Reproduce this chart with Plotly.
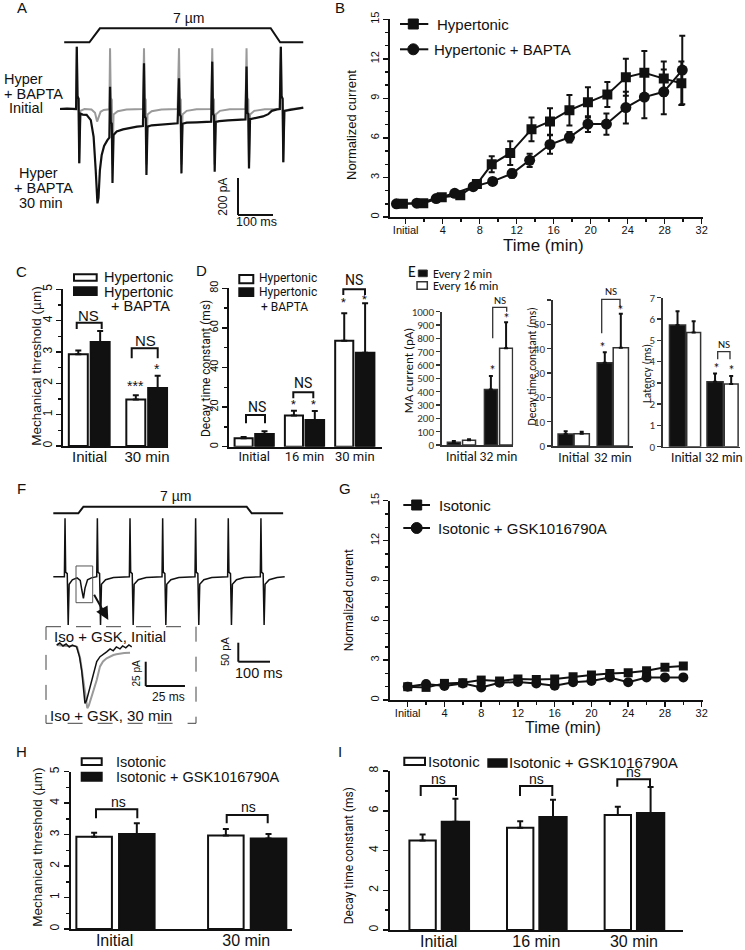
import plotly.graph_objects as go

W, H = 745, 950
ARIAL = "Liberation Sans, Arial, Helvetica, sans-serif"
NARROW = "Roboto, Liberation Sans, sans-serif"
CALIBRI = "Carlito, Lato, Open Sans, sans-serif"
INK = "#111111"
GRAY = "#9a9a9a"

# ===================== DATA =====================
# Panel A: example recordings (time in ms, current in pA; stimulus in um)
A_stim_t = [12, 84, 114, 602, 629, 695]
A_stim_um = [0, 0, 7, 7, 0, 0]
A_init_t = [0, 46, 48, 50, 53, 55, 58, 70, 90, 100, 106, 110, 116, 125, 141,
            143, 145, 148, 150, 153, 165, 190, 237,
            240, 242, 245, 247, 250, 262, 290, 336,
            340, 342, 345, 347, 350, 362, 390, 432,
            435, 437, 440, 442, 445, 457, 485, 530,
            533, 535, 538, 540, 543, 555, 585, 628,
            631, 633, 636, 638, 641, 660, 695]
A_init_pA = [2, 2, 337, 70, 55, -293, -10, 0, -3, -20, -68, -50, -15, -5, -2,
             328, 60, 50, -300, -30, -12, -3, 0,
             328, 60, 50, -300, -30, -12, -3, 0,
             328, 60, 50, -300, -30, -10, -2, 0,
             328, 60, 50, -300, -30, -10, -2, 0,
             328, 60, 50, -300, -30, -10, -2, 0,
             337, 70, 55, -288, -10, 0, 5]
A_30_t = [0, 20, 46, 48, 50, 53, 55, 58, 65, 76, 88, 96, 102, 107, 110, 114, 119, 126, 135, 141,
          143, 145, 148, 150, 153, 162, 180, 200, 220, 237,
          240, 242, 245, 247, 250, 262, 285, 310, 336,
          340, 342, 345, 347, 350, 362, 390, 415, 432,
          435, 437, 440, 442, 445, 455, 480, 505, 530,
          533, 535, 538, 540, 543, 555, 580, 595, 605, 620, 628,
          631, 633, 636, 638, 641, 655, 675, 695]
A_30_pA = [0, 2, 0, 337, 70, 55, -293, -25, -30, -32, -60, -150, -330, -510, -480, -330, -250, -200, -170, -155,
           120, -70, -80, -400, -140, -122, -110, -102, -95, -92,
           247, -40, -50, -357, -95, -88, -84, -80, -77,
           166, -30, -40, -348, -80, -74, -72, -70, -68,
           256, -25, -35, -339, -70, -66, -62, -58, -56,
           229, -20, -28, -321, -55, -50, -40, -28, -10, -2, 0,
           337, 70, 55, -288, -10, -5, 2, 7]

# Panel B: normalized current vs time
B_t_hyper = [-0.3, 1.9, 3.9, 5.9, 7.7, 9.3, 11.3, 13.6, 15.6, 17.7, 19.7, 21.8, 23.8, 25.8, 27.9, 29.8]
B_hyper = [1.0, 1.05, 1.5, 1.65, 2.5, 4.0, 4.85, 6.65, 7.25, 8.1, 8.7, 9.3, 10.6, 10.95, 10.5, 10.15]
B_hyper_err = [0.05, 0.05, 0.1, 0.15, 0.3, 0.6, 0.9, 0.9, 1.0, 1.15, 1.15, 0.95, 1.4, 1.65, 1.3, 1.65]
B_t_bapta = [-1.0, 1.2, 3.3, 5.3, 7.3, 9.4, 11.5, 13.4, 15.6, 17.7, 19.7, 21.7, 23.8, 25.8, 27.9, 29.9]
B_bapta = [1.0, 1.05, 1.4, 1.8, 2.3, 2.7, 3.3, 4.3, 5.5, 6.05, 7.05, 7.05, 8.3, 9.1, 9.5, 11.15]
B_bapta_err = [0.05, 0.05, 0.1, 0.15, 0.2, 0.2, 0.3, 0.5, 0.7, 0.4, 0.6, 0.8, 1.2, 1.6, 1.7, 2.6]

# Panel C: mechanical threshold
C_groups = ["Initial", "30 min"]
C_hyper = [2.93, 1.48]
C_hyper_err = [0.12, 0.14]
C_bapta = [3.32, 1.85]
C_bapta_err = [0.35, 0.39]

# Panel D: decay time constant
D_groups = ["Initial", "16 min", "30 min"]
D_hyper = [4.3, 15.7, 53.5]
D_hyper_err = [0.6, 2.5, 13.9]
D_bapta = [6.4, 13.5, 47.5]
D_bapta_err = [1.4, 4.5, 24.9]

# Panel E
E_groups = ["Initial", "32 min"]
E1_every2 = [20, 417]
E1_every2_err = [10, 100]
E1_every16 = [35, 725]
E1_every16_err = [9, 195]
E2_every2 = [4.9, 34.2]
E2_every2_err = [1.2, 4.3]
E2_every16 = [5.0, 40.4]
E2_every16_err = [0.9, 14.0]
E3_every2 = [5.72, 3.05]
E3_every2_err = [0.64, 0.39]
E3_every16 = [5.36, 2.94]
E3_every16_err = [0.53, 0.38]

# Panel F: example recording (ms, pA) and inset
F_stim_t = [0, 79, 95, 610, 626, 725]
F_stim_um = [0, 0, 7, 7, 0, 0]
F_t = [0, 20, 35, 37, 39, 44, 47, 50, 60, 75, 85, 90, 95, 100, 108, 120, 137,
       139, 141, 146, 149, 152, 165, 190, 240,
       242, 244, 249, 252, 255, 268, 293, 343,
       345, 347, 352, 355, 358, 371, 396, 447,
       449, 451, 456, 459, 462, 475, 500, 550,
       552, 554, 559, 562, 565, 578, 603, 653,
       655, 657, 662, 665, 668, 681, 706, 730]
F_pA = [0, 1, 0, 154, 12, 8, -127, -20, -8, -3, -10, -35, -57, -30, -8, -3, 0,
        154, 12, 8, -127, -20, -8, -2, 0,
        154, 12, 8, -127, -20, -8, -2, 0,
        154, 12, 8, -127, -20, -8, -2, 0,
        154, 12, 8, -127, -20, -8, -2, 0,
        154, 12, 8, -127, -20, -8, -2, 0,
        154, 12, 8, -127, -20, -8, -2, 0]
Fi_black_t = [0, 2, 4, 6, 8, 10, 12.7, 14.5, 15.9, 17, 18, 19, 20.2, 21.8, 23.4, 25.5, 27.6, 29.5,
              31.8, 34, 36, 38, 40.3, 42, 44, 46, 47.8]
Fi_black_pA = [0, 2, -1, 1, -2, 0, -2, -12, -26, -45, -60, -57, -50, -40, -29, -17, -12, -10,
               -7, -4, -6, -2, -4, -1, -3, 0, -2]
Fi_gray_t = [0, 6, 12, 13, 15, 17, 18.5, 19.5, 20.5, 22.3, 24, 25.5, 27.6, 29.5, 31.8, 34, 36.1,
             38, 40.3, 43, 46.7]
Fi_gray_pA = [0, -1, -1, -2, -14, -35, -55, -65, -62, -53, -44, -36, -22, -17, -13.7, -11.5, -10.3,
              -9.5, -8.6, -8.2, -7.9]

# Panel G
G_t = [0, 2, 4, 6, 8, 10, 12, 14, 16, 18, 20, 22, 24, 26, 28, 30]
G_iso = [1.0, 0.95, 1.25, 1.3, 1.5, 1.43, 1.58, 1.55, 1.58, 1.75, 1.88, 2.0, 2.05, 2.2, 2.46, 2.56]
G_gsk = [1.0, 1.2, 1.05, 1.25, 0.95, 1.3, 1.35, 1.25, 1.08, 1.33, 1.43, 1.7, 1.33, 1.7, 1.7, 1.7]

# Panel H
H_groups = ["Initial", "30 min"]
H_iso = [2.93, 2.97]
H_iso_err = [0.13, 0.21]
H_gsk = [3.02, 2.88]
H_gsk_err = [0.34, 0.14]

# Panel I
I_groups = ["Initial", "16 min", "30 min"]
I_iso = [4.5, 5.15, 5.79]
I_iso_err = [0.3, 0.32, 0.41]
I_gsk = [5.45, 5.69, 5.89]
I_gsk_err = [1.15, 0.86, 1.31]

# ===================== HELPERS =====================
def PX(x):
    return x / W


def PY(y):
    return 1 - y / H


layout = dict(width=W, height=H, autosize=False,
              margin=dict(l=0, r=0, t=0, b=0, pad=0, autoexpand=False),
              paper_bgcolor="white", plot_bgcolor="rgba(0,0,0,0)",
              showlegend=False, barmode="overlay", font=dict(family=ARIAL, color=INK))
shapes = []
annotations = []
fig = go.Figure()


def refs(n):
    return ("x" if n == 1 else f"x{n}"), ("y" if n == 1 else f"y{n}")


def place(n, box, xkw, ykw):
    l, t, r, b = box
    xr, yr = refs(n)
    xk = "xaxis" if n == 1 else f"xaxis{n}"
    yk = "yaxis" if n == 1 else f"yaxis{n}"
    xkw = dict(xkw)
    ykw = dict(ykw)
    xkw.update(domain=[l / W, r / W], anchor=yr, automargin=False)
    ykw.update(domain=[1 - b / H, 1 - t / H], anchor=xr, automargin=False)
    layout[xk] = xkw
    layout[yk] = ykw


def hidden(rng):
    return dict(visible=False, range=rng, fixedrange=True, showgrid=False, zeroline=False)


def common(color=INK, lw=2):
    return dict(showgrid=False, zeroline=False, showline=True, linecolor=color, linewidth=lw,
                tickcolor=color, tickwidth=1.5, ticklen=5, ticks="outside", fixedrange=True)


def catx(color=INK, lw=2, size=15, family=ARIAL, standoff=-3):
    d = common(color, lw)
    d.update(ticks="", ticklen=0, tickangle=0, ticklabelstandoff=standoff,
             tickfont=dict(size=size, family=family, color=INK))
    return d


def T(text, x, y, size=14, family=ARIAL, xa="center", ya="middle", angle=0, color=INK):
    annotations.append(dict(text=text, x=PX(x), y=PY(y), xref="paper", yref="paper", showarrow=False,
                            font=dict(size=size, family=family, color=color), xanchor=xa, yanchor=ya,
                            textangle=angle, borderpad=0))


def line(x0, y0, x1, y1, w=2, color=INK, dash=None):
    d = dict(type="line", xref="paper", yref="paper", x0=PX(x0), y0=PY(y0), x1=PX(x1), y1=PY(y1),
             line=dict(color=color, width=w))
    if dash:
        d["line"]["dash"] = dash
    shapes.append(d)


def rect(x0, y0, x1, y1, fill, w=2, color=INK, dash=None):
    d = dict(type="rect", xref="paper", yref="paper", x0=PX(x0), y0=PY(y0), x1=PX(x1), y1=PY(y1),
             fillcolor=fill, line=dict(color=color, width=w))
    if dash:
        d["line"]["dash"] = dash
    shapes.append(d)


def circle(cx, cy, d):
    shapes.append(dict(type="circle", xref="paper", yref="paper", x0=PX(cx - d / 2), x1=PX(cx + d / 2),
                       y0=PY(cy - d / 2), y1=PY(cy + d / 2), fillcolor=INK, line=dict(color=INK, width=1)))


def bracket(x0, x1, ytop, yl0, yl1, w=2, color=INK):
    path = (f"M {PX(x0)} {PY(yl0)} L {PX(x0)} {PY(ytop)} L {PX(x1)} {PY(ytop)} L {PX(x1)} {PY(yl1)}")
    shapes.append(dict(type="path", xref="paper", yref="paper", path=path, line=dict(color=color, width=w)))


def scalebar(n, t0, i0, dt, di, w=2):
    xr, yr = refs(n)
    shapes.append(dict(type="line", xref=xr, yref=yr, x0=t0, x1=t0, y0=i0, y1=i0 + di, line=dict(color=INK, width=w)))
    shapes.append(dict(type="line", xref=xr, yref=yr, x0=t0, x1=t0 + dt, y0=i0, y1=i0, line=dict(color=INK, width=w)))


def err(arr, color=INK, w=3, th=2):
    return dict(type="data", array=arr, arrayminus=[0] * len(arr), symmetric=False,
                color=color, thickness=th, width=w)


def bars(n, cats, vals, errs, fill, offset, width, lc=INK, lw=2, ecol=INK, ew=3):
    xr, yr = refs(n)
    fig.add_trace(go.Bar(x=cats, y=vals, xaxis=xr, yaxis=yr, offset=offset, width=width,
                         marker=dict(color=fill, line=dict(color=lc, width=lw)),
                         error_y=err(errs, ecol, ew), hoverinfo="skip"))


# ===================== PANEL A =====================
place(1, (55, 44, 310, 222), hidden([(55 - 60) / 0.35, (310 - 60) / 0.35]),
      hidden([(109 - 222) / 0.185, (109 - 44) / 0.185]))
place(2, (55, 18, 310, 46), hidden([(55 - 60) / 0.35, (310 - 60) / 0.35]),
      hidden([(42.3 - 46) / 2.0, (42.3 - 18) / 2.0]))
fig.add_trace(go.Scatter(x=A_stim_t, y=A_stim_um, xaxis="x2", yaxis="y2", mode="lines",
                         line=dict(color=INK, width=2), hoverinfo="skip"))
fig.add_trace(go.Scatter(x=A_init_t, y=A_init_pA, xaxis="x", yaxis="y", mode="lines",
                         line=dict(color=GRAY, width=2), hoverinfo="skip"))
fig.add_trace(go.Scatter(x=A_30_t, y=A_30_pA, xaxis="x", yaxis="y", mode="lines",
                         line=dict(color=INK, width=2.2), hoverinfo="skip"))
scalebar(1, 508.6, -573, 100, 200)
T("A", 21.7, 7, 15)
T("7 µm", 188, 18.3, 14)
T("Hyper", 3, 79, 14.5, xa="left")
T("+ BAPTA", 3, 93.5, 14.5, xa="left")
T("Initial", 7.5, 108, 14.5, xa="left")
T("Hyper", 18.3, 173.3, 14.5, xa="left")
T("+ BAPTA", 13.3, 188.3, 14.5, xa="left")
T("30 min", 18.3, 203.3, 14.5, xa="left")
T("200 pA", 223, 196.7, 12, angle=-90)
T("100 ms", 256.7, 222, 12.5)

# ===================== PANEL B =====================
bx0 = 405.7
bs = 9.25
place(3, (390, 19.3, 703.3, 217),
      dict(common(), range=[(390 - bx0) / bs, (703.3 - bx0) / bs], tickmode="linear", tick0=0, dtick=4,
           labelalias={"0": "Initial"}, tickfont=dict(size=11, family=ARIAL), tickangle=0,
           ticklabelstandoff=-3,
           minor=dict(dtick=2, ticks="outside", ticklen=3, tickcolor=INK, tickwidth=1.5)),
      dict(common(), range=[0, 15], tickmode="linear", tick0=0, dtick=3, tickangle=-90,
           tickfont=dict(size=11, family=ARIAL),
           minor=dict(dtick=1, ticks="outside", ticklen=3, tickcolor=INK, tickwidth=1.5)))
fig.add_trace(go.Scatter(x=B_t_hyper, y=B_hyper, xaxis="x3", yaxis="y3", mode="lines+markers",
                         line=dict(color=INK, width=2), marker=dict(symbol="square", size=10, color=INK),
                         error_y=dict(type="data", array=B_hyper_err, color=INK, thickness=2, width=3),
                         hoverinfo="skip"))
fig.add_trace(go.Scatter(x=B_t_bapta, y=B_bapta, xaxis="x3", yaxis="y3", mode="lines+markers",
                         line=dict(color=INK, width=2), marker=dict(symbol="circle", size=11, color=INK),
                         error_y=dict(type="data", array=B_bapta_err, color=INK, thickness=2, width=3),
                         hoverinfo="skip"))
T("B", 340, 7, 15)
T("Normalized current", 352, 125, 13, angle=-90)
T("Time (min)", 543.3, 245, 17)
line(400, 24, 428.3, 24)
rect(408.3, 19, 418.3, 29, INK, w=1)
T("Hypertonic", 435.7, 24, 15, xa="left")
line(400, 49.3, 428.3, 49.3)
circle(413.3, 49.3, 11)
T("Hypertonic + BAPTA", 433.3, 49.3, 15, xa="left")

# ===================== PANEL C =====================
place(4, (63.3, 289.3, 168.3, 446),
      dict(catx(size=15, standoff=-4), range=[-0.456, 1.37]),
      dict(common(), range=[0, 5], tickmode="linear", dtick=1, tickangle=-90,
           tickfont=dict(size=12, family=ARIAL),
           minor=dict(dtick=0.5, ticks="outside", ticklen=3, tickcolor=INK, tickwidth=1.5)))
bars(4, C_groups, C_hyper, C_hyper_err, "white", -0.36, 0.33)
bars(4, C_groups, C_bapta, C_bapta_err, INK, 0.02, 0.33)
T("C", 21.7, 271.7, 15)
T("Mechanical threshold (µm)", 37, 366.7, 13.5, angle=-90)
rect(74, 274.3, 96.7, 280.7, "white")
rect(74, 287.3, 96.7, 295, INK)
T("Hypertonic", 103.3, 276.7, 14.5, xa="left")
T("Hypertonic", 103.3, 291.7, 14.5, xa="left")
T("+ BAPTA", 110, 306, 14.5, xa="left")
bracket(76.7, 101.7, 322.7, 329, 329)
T("NS", 88.8, 315.5, 15)
bracket(131.7, 157.7, 348.3, 358.3, 358.3)
T("NS", 145, 340, 15)
T("***", 135, 386, 14)
T("*", 156.7, 368.5, 14)

# ===================== PANEL D =====================
place(5, (229.3, 288.3, 381.7, 446.7),
      dict(catx(size=13, family=NARROW, standoff=-3), range=[-0.495, 2.535]),
      dict(common(), range=[0, 80], tickmode="linear", dtick=20, tickangle=-90,
           tickfont=dict(size=11, family=NARROW),
           minor=dict(dtick=10, ticks="outside", ticklen=3, tickcolor=INK, tickwidth=1.5)))
bars(5, D_groups, D_hyper, D_hyper_err, "white", -0.39, 0.36)
bars(5, D_groups, D_bapta, D_bapta_err, INK, 0.02, 0.37)
T("D", 201.7, 270, 15)
T("Decay time constant (ms)", 206, 369, 12, NARROW, angle=-90)
rect(239.3, 275, 253.3, 283.3, "white")
rect(239.3, 288.3, 253.3, 296, INK)
T("Hypertonic", 258.3, 277.5, 12, NARROW, xa="left")
T("Hypertonic", 258.3, 292, 12, NARROW, xa="left")
T("+ BAPTA", 260, 307, 12, NARROW, xa="left")
bracket(246, 265, 415, 423.3, 423.3)
T("NS", 256.7, 406.7, 14, NARROW)
bracket(293.3, 313.3, 392.3, 398.3, 398.3)
T("NS", 303.3, 383.3, 14, NARROW)
bracket(343.3, 365, 289.3, 295, 295)
T("NS", 354.2, 280, 14, NARROW)
for sx, sy in [(293.3, 404.5), (313.3, 404.5), (343.3, 302.5), (364, 299)]:
    T("*", sx, sy, 11, NARROW)

# ===================== PANEL E =====================
EC = "#333333"
e_y = dict(common(EC, 1.5), ticklen=4, tickfont=dict(size=11, family=CALIBRI, color=EC))
e_x = catx(EC, 1.5, 13.5, CALIBRI, standoff=-2)
place(6, (441.7, 311.7, 513.3, 445), dict(e_x, range=[-0.533, 1.40]),
      dict(e_y, range=[0, 1000], tickmode="linear", dtick=100))
place(7, (552.7, 300, 633.3, 446), dict(e_x, range=[-0.537, 1.524]),
      dict(e_y, range=[0, 60], tickmode="array", tickvals=[0, 10, 20, 30, 40, 50, 60],
           ticktext=["0", "10", "20", "30", "40", "50", ""]))
place(8, (662.7, 297.7, 740, 446.7), dict(e_x, range=[-0.63, 1.43]),
      dict(e_y, range=[0, 7], tickmode="linear", dtick=1))
bars(6, E_groups, E1_every2, E1_every2_err, INK, -0.38, 0.35, lc=EC, lw=1.5, ew=2)
bars(6, E_groups, E1_every16, E1_every16_err, "white", 0.03, 0.35, lc=EC, lw=1.5, ew=2)
bars(7, E_groups, E2_every2, E2_every2_err, INK, -0.40, 0.39, lc=EC, lw=1.5, ew=2)
bars(7, E_groups, E2_every16, E2_every16_err, "white", 0.01, 0.39, lc=EC, lw=1.5, ew=2)
bars(8, E_groups, E3_every2, E3_every2_err, INK, -0.45, 0.43, lc=EC, lw=1.5, ew=2)
bars(8, E_groups, E3_every16, E3_every16_err, "white", 0.01, 0.37, lc=EC, lw=1.5, ew=2)
T("E", 411.7, 271.7, 16, CALIBRI)
rect(418.3, 270, 427.3, 276.7, INK, w=1, color=EC)
rect(417, 281.7, 427.3, 289.3, "white", w=1.5, color=EC)
T("Every 2 min", 431.7, 273.3, 12.5, CALIBRI, xa="left")
T("Every 16 min", 431.7, 285.3, 12.5, CALIBRI, xa="left")
T("MA current (pA)", 408.3, 370, 13, CALIBRI, angle=-90)
T("Decay time constant (ms)", 531.7, 366.7, 11.5, CALIBRI, angle=-90)
T("Latency (ms)", 647.7, 373.3, 11.5, CALIBRI, angle=-90)
bracket(492.7, 506.7, 307.3, 338.3, 311.7, w=1.3, color=EC)
T("NS", 500, 300.7, 11, CALIBRI)
T("*", 492.7, 371, 14, CALIBRI)
T("*", 506.7, 318, 14, CALIBRI)
bracket(601.7, 620, 299.3, 333.3, 307.3, w=1.3, color=EC)
T("NS", 610.8, 291, 11, CALIBRI)
T("*", 602, 347.5, 14, CALIBRI)
T("*", 620, 310, 14, CALIBRI)
bracket(717.7, 730, 351.7, 359.3, 359.3, w=1.3, color=EC)
T("NS", 724, 344, 11, CALIBRI)
T("*", 716.7, 368, 14, CALIBRI)
T("*", 731.7, 370.5, 14, CALIBRI)

# ===================== PANEL F =====================
place(9, (45, 512, 290, 668), hidden([(45 - 53.3) / 0.317, (290 - 53.3) / 0.317]),
      hidden([(576.7 - 668) / 0.38, (576.7 - 512) / 0.38]))
place(10, (45, 500, 290, 518), hidden([(45 - 53.3) / 0.317, (290 - 53.3) / 0.317]),
      hidden([(513.3 - 518) / 0.943, (513.3 - 500) / 0.943]))
place(11, (48, 638, 196, 712), hidden([(48 - 56.7) / 1.57, (196 - 56.7) / 1.57]),
      hidden([(645 - 712) / 0.972, (645 - 638) / 0.972]))
fig.add_trace(go.Scatter(x=F_stim_t, y=F_stim_um, xaxis="x10", yaxis="y10", mode="lines",
                         line=dict(color=INK, width=2), hoverinfo="skip"))
fig.add_trace(go.Scatter(x=F_t, y=F_pA, xaxis="x9", yaxis="y9", mode="lines",
                         line=dict(color=INK, width=1.5), hoverinfo="skip"))
fig.add_trace(go.Scatter(x=Fi_gray_t, y=Fi_gray_pA, xaxis="x11", yaxis="y11", mode="lines",
                         line=dict(color=GRAY, width=2), hoverinfo="skip"))
fig.add_trace(go.Scatter(x=Fi_black_t, y=Fi_black_pA, xaxis="x11", yaxis="y11", mode="lines",
                         line=dict(color=INK, width=1.5), hoverinfo="skip"))
shapes.append(dict(type="rect", xref="x9", yref="y9", x0=71.6, x1=124.3, y0=-68.4, y1=28.2,
                   line=dict(color="#555555", width=1)))
scalebar(9, 583.6, -223.7, 100, 50)
scalebar(11, 56.7, -42.2, 25, 25)
annotations.append(dict(x=PX(108.3), y=PY(620), xref="paper", yref="paper", ax=-15, ay=-26.7,
                        showarrow=True, arrowhead=2, arrowsize=1.3, arrowwidth=2, arrowcolor=INK,
                        text="", standoff=0))
rect(46, 626.7, 196, 723.3, "rgba(0,0,0,0)", w=1, color="#444444", dash="longdash")
T("F", 21.7, 488.3, 15)
T("7 µm", 175.5, 496, 14)
T("Iso + GSK, Initial", 53.3, 636.5, 15, xa="left")
T("Iso + GSK, 30 min", 49.3, 715, 15, xa="left")
T("50 pA", 225, 652, 11, angle=-90)
T("100 ms", 259.2, 673.3, 14.5)
T("25 pA", 135.5, 674, 10, angle=-90)
T("25 ms", 168.3, 696.7, 12)

# ===================== PANEL G =====================
gx0 = 407.7
gs = 9.1875
place(12, (390, 500.7, 703.3, 700),
      dict(common(), range=[(390 - gx0) / gs, (703.3 - gx0) / gs], tickmode="linear", tick0=0, dtick=4,
           labelalias={"0": "Initial"}, tickfont=dict(size=11, family=ARIAL), tickangle=0,
           ticklabelstandoff=-3,
           minor=dict(dtick=2, ticks="outside", ticklen=3, tickcolor=INK, tickwidth=1.5)),
      dict(common(), range=[0, 15], tickmode="linear", tick0=0, dtick=3, tickangle=-90,
           tickfont=dict(size=11, family=ARIAL),
           minor=dict(dtick=1, ticks="outside", ticklen=3, tickcolor=INK, tickwidth=1.5)))
fig.add_trace(go.Scatter(x=G_t, y=G_iso, xaxis="x12", yaxis="y12", mode="lines+markers",
                         line=dict(color=INK, width=2), marker=dict(symbol="square", size=9, color=INK),
                         hoverinfo="skip"))
fig.add_trace(go.Scatter(x=G_t, y=G_gsk, xaxis="x12", yaxis="y12", mode="lines+markers",
                         line=dict(color=INK, width=2), marker=dict(symbol="circle", size=10, color=INK),
                         hoverinfo="skip"))
T("G", 345, 488.3, 15)
T("Normalized current", 348.5, 600.8, 12, NARROW, angle=-90)
T("Time (min)", 563.3, 727.5, 16)
line(403.3, 505, 430, 505)
rect(411.7, 500, 421.7, 510, INK, w=1)
T("Isotonic", 438.3, 505, 15, xa="left")
line(403.3, 528, 430, 528)
circle(416.7, 528, 11)
T("Isotonic + GSK1016790A", 436.7, 528, 15, xa="left")

# ===================== PANEL H =====================
place(13, (70.7, 771.7, 291.7, 929),
      dict(catx(size=16, standoff=-4), range=[-0.333, 1.345]),
      dict(common(), range=[0, 5], tickmode="linear", dtick=1, tickangle=-90,
           tickfont=dict(size=12, family=ARIAL),
           minor=dict(dtick=0.5, ticks="outside", ticklen=3, tickcolor=INK, tickwidth=1.5)))
bars(13, H_groups, H_iso, H_iso_err, "white", -0.29, 0.27)
bars(13, H_groups, H_gsk, H_gsk_err, INK, 0.034, 0.27)
T("H", 21.7, 751.7, 15)
T("Mechanical threshold (µm)", 37.3, 847.5, 13.5, angle=-90)
rect(81.7, 758.3, 101.7, 765, "white")
rect(81.7, 772.7, 101.7, 780.7, INK)
T("Isotonic", 115, 761.7, 14.5, xa="left")
T("Isotonic + GSK1016790A", 115, 776.7, 14.5, xa="left")
bracket(96, 137.3, 809.3, 818.3, 818.3)
T("ns", 118.3, 802, 14)
bracket(226.7, 267.7, 815, 823.3, 823.3)
T("ns", 248.3, 807, 14)

# ===================== PANEL I =====================
place(14, (390, 771, 683.3, 930),
      dict(catx(size=16, standoff=-4), range=[-0.499, 2.506]),
      dict(common(), range=[0, 8], tickmode="linear", dtick=2, tickangle=-90,
           tickfont=dict(size=12, family=ARIAL),
           minor=dict(dtick=1, ticks="outside", ticklen=3, tickcolor=INK, tickwidth=1.5)))
bars(14, I_groups, I_iso, I_iso_err, "white", -0.30, 0.27)
bars(14, I_groups, I_gsk, I_gsk_err, INK, 0.031, 0.28)
T("I", 340, 751.7, 15)
T("Decay time constant (ms)", 348.5, 855.8, 12, NARROW, angle=-90)
rect(404.3, 757.7, 425, 765, "white")
T("Isotonic", 426.7, 761.7, 15, xa="left")
rect(488.3, 759.3, 506.7, 766.7, INK)
T("Isotonic + GSK1016790A", 508.3, 762.7, 15, xa="left")
bracket(420.7, 456, 786, 796, 796)
T("ns", 438.3, 779, 14)
bracket(520, 552.3, 786, 796, 796)
T("ns", 536.7, 779, 14)
bracket(617.3, 650, 779.3, 786.7, 786.7)
T("ns", 633.3, 771.5, 14)

layout["shapes"] = shapes
layout["annotations"] = annotations
fig.update_layout(**layout)
fig.write_html("out.html", config={"displayModeBar": False, "staticPlot": True},
               post_script="document.body.style.margin='0px';document.body.style.padding='0px';"
                           "document.documentElement.style.overflow='hidden';")
